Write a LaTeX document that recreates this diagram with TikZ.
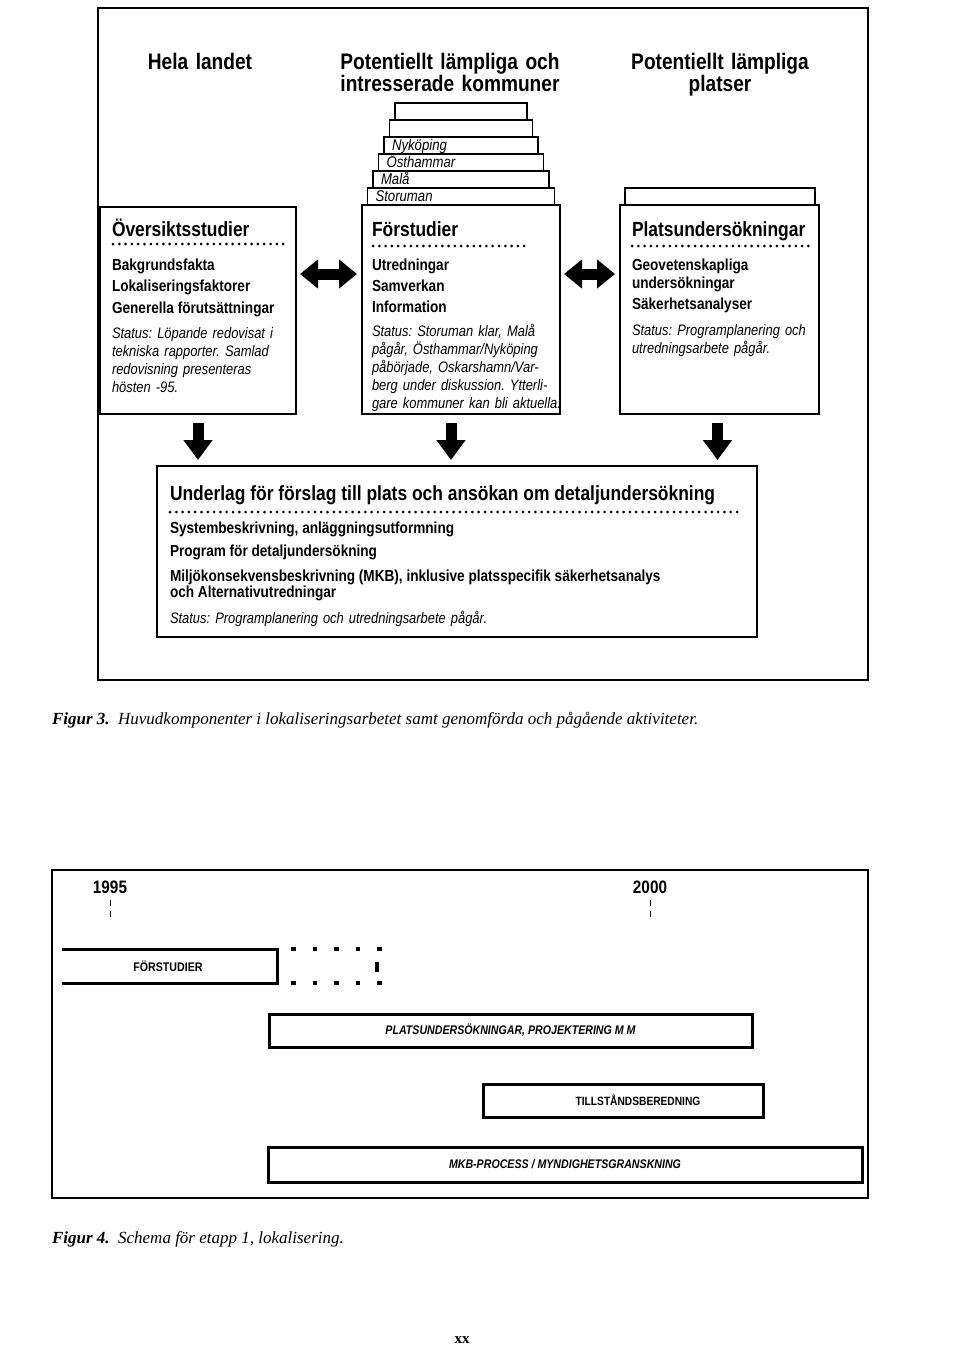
\documentclass[tikz,border=0pt]{standalone}
\usepackage{fontspec}
\setmainfont{Liberation Sans}[FakeStretch=0.85]
\newfontfamily\capserif{Liberation Serif}
\usetikzlibrary{arrows.meta,positioning,calc}
\frenchspacing

\begin{document}
\begin{tikzpicture}[
  x=1pt, y=-1pt,
  every node/.style={inner sep=0pt, outer sep=0pt},
  frame/.style={draw=black, line width=2pt, anchor=north west},
  box/.style={draw=black, line width=1.3pt, anchor=north west},
  tab/.style={draw=black, line width=1.3pt, anchor=south west, minimum height=17pt},
  heading/.style={font=\fontsize{22.5}{22}\selectfont\bfseries, text width=260pt, align=center, anchor=base},
  boxtitle/.style={font=\fontsize{20.5}{24}\selectfont\bfseries, anchor=base west},
  item/.style={font=\fontsize{16}{18}\selectfont\bfseries, anchor=base west},
  status/.style={font=\fontsize{15.2}{18}\selectfont\itshape, text width=200pt, align=left, anchor=base west},
  townlabel/.style={font=\fontsize{15.5}{17}\selectfont\itshape, anchor=base west},
  dotrow/.style={line width=3pt, line cap=round, dash pattern=on 0pt off 6.3pt},
  fatarrow/.style={line width=11pt, {Triangle[width=28pt,length=18pt]}-{Triangle[width=28pt,length=18pt]}, shorten <=4pt, shorten >=5pt},
  downarrow/.style={line width=11pt, -{Triangle[width=28pt,length=20pt]}, shorten <=9pt, shorten >=6pt},
  barbox/.style={draw=black, line width=3pt, anchor=north west},
  barline/.style={line width=3pt},
  bardots/.style={line width=4.5pt, dash pattern=on 4.5pt off 17pt},
  barlabel/.style={font=\fontsize{12.5}{14}\selectfont\bfseries\itshape},
  year/.style={font=\fontsize{18}{20}\selectfont\bfseries, anchor=base},
  tick/.style={line width=1pt, dash pattern=on 6pt off 5pt},
  caption/.style={font=\capserif\fontsize{17}{20}\selectfont\itshape, anchor=base west},
]
\useasboundingbox (0,0) rectangle (960,1346);

%% Figur 3
\node[frame, minimum width=770pt, minimum height=672pt] (fig3) at (98,8) {};

\node[heading] (hland) at (200,70) {Hela landet};
\node[heading] (hkomm) at (450,70) {Potentiellt lämpliga och\\intresserade kommuner};
\node[heading] (hplats) at (720,70) {Potentiellt lämpliga\\platser};

% stacked municipality tabs
\foreach \k/\town in {6/{},5/{},4/Nyköping,3/Östhammar,2/Malå,1/Storuman} {
  \node[tab, minimum width={198pt-11pt*\k}] (tab\k) at ({362+5.5*\k},{205-17*(\k-1)}) {};
  \node[townlabel] at ($(tab\k.south west)+(8,-4)$) {\town};
}
\node[tab, minimum width=190pt] (rtab) at (625,205) {};

% the three study boxes
\node[box, minimum width=196pt, minimum height=207pt] (lbox) at (100,207) {};
\node[box, minimum width=198pt, minimum height=209pt] (mbox) at (362,205) {};
\node[box, minimum width=199pt, minimum height=209pt] (rbox) at (620,205) {};

\node[boxtitle] at (112,236) {Översiktsstudier};
\draw[dotrow] (113,244) -- (289,244);
\node[item] at (112,270) {Bakgrundsfakta};
\node[item] at (112,291) {Lokaliseringsfaktorer};
\node[item] at (112,313) {Generella förutsättningar};
\node[status] at (112,338)
  {Status: Löpande redovisat i\\tekniska rapporter. Samlad\\redovisning presenteras\\hösten -95.};

\node[boxtitle] at (372,236) {Förstudier};
\draw[dotrow] (373,246) -- (527,246);
\node[item] at (372,270) {Utredningar};
\node[item] at (372,291) {Samverkan};
\node[item] at (372,312) {Information};
\node[status] at (372,336)
  {Status: Storuman klar, Malå\\pågår, Östhammar/Nyköping\\påbörjade, Oskarshamn/Var-\\berg under diskussion. Ytterli-\\gare kommuner kan bli aktuella.};

\node[boxtitle] at (632,236) {Platsundersökningar};
\draw[dotrow] (632,246) -- (809,246);
\node[item] at (632,270) {Geovetenskapliga};
\node[item] at (632,288) {undersökningar};
\node[item] at (632,309) {Säkerhetsanalyser};
\node[status] at (632,335)
  {Status: Programplanering och\\utredningsarbete pågår.};

\draw[fatarrow] (lbox.east |- {(0,274)}) -- (mbox.west |- {(0,274)});
\draw[fatarrow] (mbox.east |- {(0,274)}) -- (rbox.west |- {(0,274)});

% application box
\node[box, minimum width=600pt, minimum height=171pt] (bbox) at (157,466) {};
\node[boxtitle] at (170,500) {Underlag för förslag till plats och ansökan om detaljundersökning};
\draw[dotrow] (170,512) -- (738,512);
\node[item] at (170,533) {Systembeskrivning, anläggningsutformning};
\node[item] at (170,556) {Program för detaljundersökning};
\node[item] at (170,581) {Miljökonsekvensbeskrivning (MKB), inklusive platsspecifik säkerhetsanalys};
\node[item] at (170,597) {och Alternativutredningar};
\node[status, text width=400pt] at (170,623) {Status: Programplanering och utredningsarbete pågår.};

\draw[downarrow] (lbox.south) -- (lbox.south |- bbox.north);
\draw[downarrow] ([xshift=-10pt]mbox.south) -- ([xshift=-10pt]mbox.south |- bbox.north);
\draw[downarrow] ([xshift=-2pt]rbox.south) -- ([xshift=-2pt]rbox.south |- bbox.north);

\node[caption] (cap3) at (52,724)
  {\bfseries Figur 3.\enspace\mdseries Huvudkomponenter i lokaliseringsarbetet samt genomförda och pågående aktiviteter.};

%% Figur 4
\node[frame, minimum width=816pt, minimum height=328pt] (fig4) at (52,870) {};
\node[year] (y95) at (110,893) {1995};
\node[year] (y00) at (650,893) {2000};
\draw[tick] ([yshift=-7pt]y95.south) -- ++(0,17);
\draw[tick] ([yshift=-7pt]y00.south) -- ++(0,17);

\draw[barline] (62,949) -| (277,983) -- (62,983);
\draw[bardots] (291,949) -- (382,949);
\draw[bardots] (291,983) -- (382,983);
\draw[line width=4pt] (377,962) -- (377,972);
\node[barlabel, font=\fontsize{12.5}{14}\selectfont\bfseries] (fstud) at (168,966) {FÖRSTUDIER};

\node[barbox, minimum width=483pt, minimum height=33pt, barlabel] (platsbar) at (269,1014)
  {PLATSUNDERSÖKNINGAR, PROJEKTERING M M};
\node[barbox, minimum width=280pt, minimum height=33pt] (tillbar) at (483,1084) {};
\node[barlabel, font=\fontsize{12}{14}\selectfont\bfseries] at ($(tillbar.center)+(15,0)$) {TILLSTÅNDSBEREDNING};
\node[barbox, minimum width=594pt, minimum height=35pt, barlabel] (mkbbar) at (268,1147)
  {MKB-PROCESS / MYNDIGHETSGRANSKNING};

\node[caption] (cap4) at (52,1243)
  {\bfseries Figur 4.\enspace\mdseries Schema för etapp 1, lokalisering.};
\node[font=\capserif\fontsize{15}{15}\selectfont\bfseries, anchor=base] (pagenr) at (462,1343) {xx};

\end{tikzpicture}
\end{document}
